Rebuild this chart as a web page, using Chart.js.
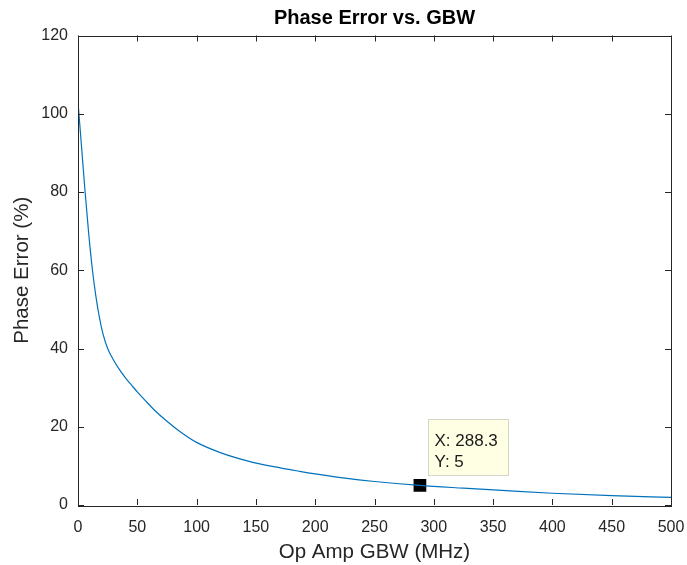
<!DOCTYPE html>
<html>
<head>
<meta charset="utf-8">
<script src="https://cdn.jsdelivr.net/npm/chart.js@4"></script>
<style>
  html, body { margin: 0; padding: 0; background: #ffffff; }
  #wrap { width: 687px; height: 565px; position: relative; }
</style>
</head>
<body>
<div id="wrap"><canvas id="c"></canvas></div>
<script>
// ---- data ----
const gbw = [0, 3, 6, 9, 12, 15, 18, 21, 25, 30, 35, 40, 45, 50, 57, 65, 75, 85, 100, 120, 145, 165, 187, 200, 225, 250, 288.3, 325, 361, 400, 450, 500];
const phaseError = [103, 91.5, 80, 69.5, 60.5, 53.5, 48, 43.8, 40, 37, 34.6, 32.5, 30.7, 28.9, 26.6, 24.1, 21.4, 19.0, 16.0, 13.4, 11.1, 9.8, 8.6, 7.95, 6.85, 6.0, 5.0, 4.3, 3.66, 3.0, 2.4, 1.96];
const tipX = [288.3];
const tipY = [5];
const xTicks = [0, 50, 100, 150, 200, 250, 300, 350, 400, 450, 500];
const yTicks = [0, 20, 40, 60, 80, 100, 120];
const titleText = 'Phase Error vs. GBW';

const FONT = '"Liberation Sans", Arial, Helvetica, sans-serif';
const AXC = '#262626';

const boxTicks = {
  id: 'boxTicks',
  afterDatasetsDraw(chart) {
    const { ctx, chartArea: a, scales: { x, y } } = chart;
    ctx.save();
    ctx.strokeStyle = AXC;
    ctx.lineWidth = 1;
    const L = 6;
    ctx.beginPath();
    xTicks.forEach(v => {
      const px = Math.round(x.getPixelForValue(v)) + 0.5;
      ctx.moveTo(px, a.bottom); ctx.lineTo(px, a.bottom - L);
      ctx.moveTo(px, a.top); ctx.lineTo(px, a.top + L);
    });
    yTicks.forEach(v => {
      const py = Math.round(y.getPixelForValue(v)) + 0.5;
      ctx.moveTo(a.left, py); ctx.lineTo(a.left + L, py);
      ctx.moveTo(a.right, py); ctx.lineTo(a.right - L, py);
    });
    ctx.stroke();
    ctx.strokeRect(Math.round(a.left) + 0.5, Math.round(a.top) + 0.5,
                   Math.round(a.right - a.left), Math.round(a.bottom - a.top));

    // title centred over the plot area
    ctx.fillStyle = '#000000';
    ctx.font = 'bold 20px ' + FONT;
    ctx.textAlign = 'center';
    ctx.textBaseline = 'middle';
    ctx.fillText(titleText, (a.left + a.right) / 2, 18);

    // data tip box
    const px = x.getPixelForValue(tipX[0]);
    const py = y.getPixelForValue(tipY[0]);
    const bx = Math.round(px + 8) + 0.5, bw = 80, bh = 56;
    const by = Math.round(py - 10 - bh) + 0.5;
    ctx.fillStyle = '#ffffe4';
    ctx.fillRect(bx, by, bw, bh);
    ctx.strokeStyle = '#d6d6c8';
    ctx.strokeRect(bx, by, bw, bh);
    ctx.fillStyle = '#1a1a1a';
    ctx.font = '17px ' + FONT;
    ctx.textBaseline = 'alphabetic';
    ctx.textAlign = 'left';
    ctx.fillText('X: ' + tipX[0], bx + 6, by + 26);
    ctx.fillText('Y: ' + tipY[0], bx + 6, by + 47);
    ctx.restore();
  }
};

new Chart(document.getElementById('c'), {
  type: 'line',
  data: {
    datasets: [
      {
        data: gbw.map((v, i) => ({ x: v, y: phaseError[i] })),
        borderColor: '#0072BD',
        borderWidth: 1.2,
        pointRadius: 0,
        fill: false,
        cubicInterpolationMode: 'monotone'
      },
      {
        data: tipX.map((v, i) => ({ x: v, y: tipY[i] })),
        showLine: false,
        pointStyle: 'rect',
        pointRadius: 9,
        pointBackgroundColor: '#000000',
        pointBorderColor: '#000000',
        pointBorderWidth: 0
      }
    ]
  },
  options: {
    responsive: true,
    maintainAspectRatio: false,
    animation: false,
    events: [],
    layout: { padding: { left: 0, right: 16, top: 35.5, bottom: 0 } },
    plugins: {
      legend: { display: false },
      tooltip: { enabled: false },
      title: { display: false }
    },
    scales: {
      x: {
        type: 'linear',
        min: 0, max: 500,
        afterBuildTicks(s) { s.ticks = xTicks.map(v => ({ value: v })); },
        afterFit(s) { s.height = 60; s.paddingLeft = 0; s.paddingRight = 0; },
        grid: { display: false, drawTicks: false },
        border: { display: false },
        ticks: { color: AXC, padding: 13, maxRotation: 0, font: { family: FONT, size: 16 } },
        title: {
          display: true,
          text: 'Op Amp GBW (MHz)',
          color: AXC,
          font: { family: FONT, size: 20.5, lineHeight: 1.2 },
          padding: { top: 0, bottom: 0 }
        }
      },
      y: {
        type: 'linear',
        min: 0, max: 120,
        afterBuildTicks(s) { s.ticks = yTicks.map(v => ({ value: v })); },
        afterFit(s) { s.width = 78; s.paddingTop = 0; s.paddingBottom = 0; },
        grid: { display: false, drawTicks: false },
        border: { display: false },
        ticks: { color: AXC, padding: 10, font: { family: FONT, size: 16 } },
        title: {
          display: true,
          text: 'Phase Error (%)',
          color: AXC,
          font: { family: FONT, size: 20.5, lineHeight: 1.2 },
          padding: { top: 10, bottom: 0 }
        }
      }
    }
  },
  plugins: [boxTicks]
});
</script>
</body>
</html>
